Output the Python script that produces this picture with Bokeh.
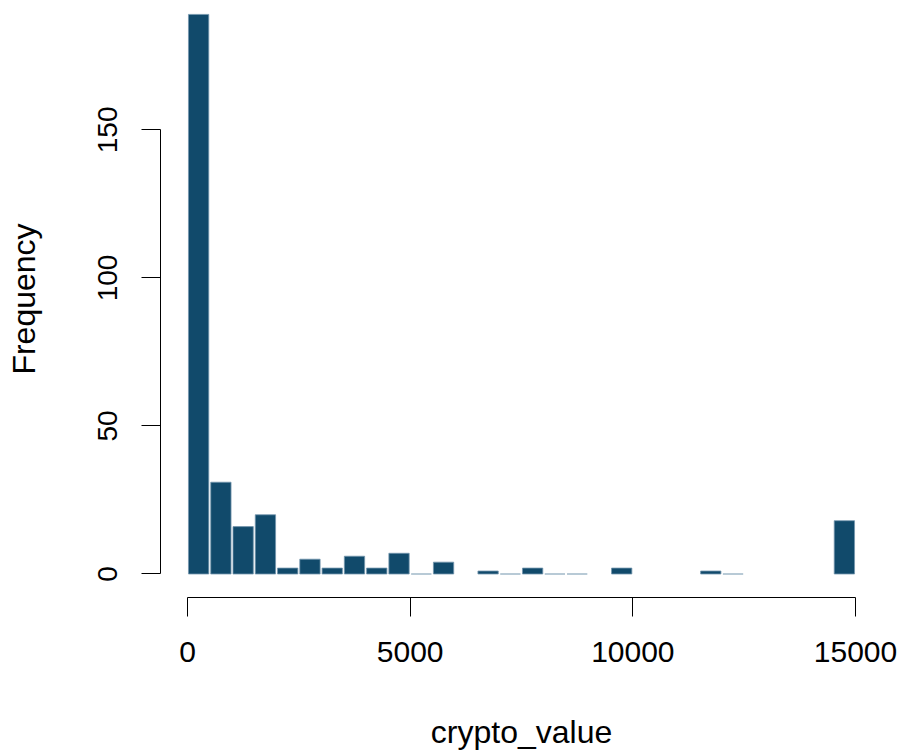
from bokeh.plotting import figure
from bokeh.embed import file_html
from bokeh.resources import INLINE
from bokeh.models import FixedTicker, ColumnDataSource

# Histogram data (bin width 500, 0..15000)
bin_edges = list(range(0, 15001, 500))
counts = [189, 31, 16, 20, 2, 5, 2, 6, 2, 7,
          0, 4, 0, 1, 0, 2, 0, 0, 0, 2,
          0, 0, 0, 1, 0, 0, 0, 0, 0, 18]
# empty bins that still show a thin baseline stroke in the reference
empty_shown = [10, 14, 16, 17, 24]
x_ticks = [0, 5000, 10000, 15000]
y_ticks = [0, 50, 100, 150]

FILL = "#114A6B"
EDGE = "#7396AD"
FONT = "Liberation Sans"

gap = 22
lefts, rights, tops = [], [], []
zl, zr = [], []
for i, c in enumerate(counts):
    if c > 0:
        lefts.append(bin_edges[i] + gap)
        rights.append(bin_edges[i + 1] - gap)
        tops.append(c)
    elif i in empty_shown:
        zl.append(bin_edges[i] + gap)
        zr.append(bin_edges[i + 1] - gap)

src = ColumnDataSource(dict(left=lefts, right=rights, top=tops, bottom=[0] * len(tops)))

p = figure(frame_width=722, frame_height=597,
           x_range=(-606, 15606), y_range=(-7.94, 193.7),
           output_backend="svg", toolbar_location=None,
           min_border_left=160, min_border_right=19,
           min_border_top=0, min_border_bottom=156)
p.outline_line_color = None
p.xgrid.visible = False
p.ygrid.visible = False
p.background_fill_color = "white"
p.border_fill_color = "white"

p.quad(left="left", right="right", top="top", bottom="bottom", source=src,
       fill_color=FILL, line_color=EDGE, line_width=0.8)
if zl:
    p.segment(x0=zl, y0=[0] * len(zl), x1=zr, y1=[0] * len(zl),
              line_color=EDGE, line_width=1.2)

for ax in (p.xaxis[0], p.yaxis[0]):
    ax.axis_line_color = "black"
    ax.axis_line_width = 1
    ax.major_tick_line_color = "black"
    ax.major_tick_out = 19
    ax.major_tick_in = 0
    ax.minor_tick_line_color = None
    ax.major_label_text_font = FONT
    ax.major_label_text_color = "black"
    ax.axis_label_text_font = FONT
    ax.axis_label_text_font_size = "32px"
    ax.axis_label_text_font_style = "normal"
    ax.axis_label_text_color = "black"

p.xaxis[0].ticker = FixedTicker(ticks=x_ticks)
p.xaxis[0].bounds = (0, 15000)
p.xaxis[0].axis_label = "crypto_value"
p.xaxis[0].major_label_text_font_size = "30px"
p.xaxis[0].major_label_standoff = 25
p.xaxis[0].axis_label_standoff = 49

p.yaxis[0].ticker = FixedTicker(ticks=y_ticks)
p.yaxis[0].bounds = (0, 150)
p.yaxis[0].axis_label = "Frequency"
p.yaxis[0].major_label_text_font_size = "28px"
p.yaxis[0].major_label_orientation = "vertical"
p.yaxis[0].major_label_standoff = 24
p.yaxis[0].axis_label_standoff = 54

open("out.html", "w").write(file_html(p, INLINE))
